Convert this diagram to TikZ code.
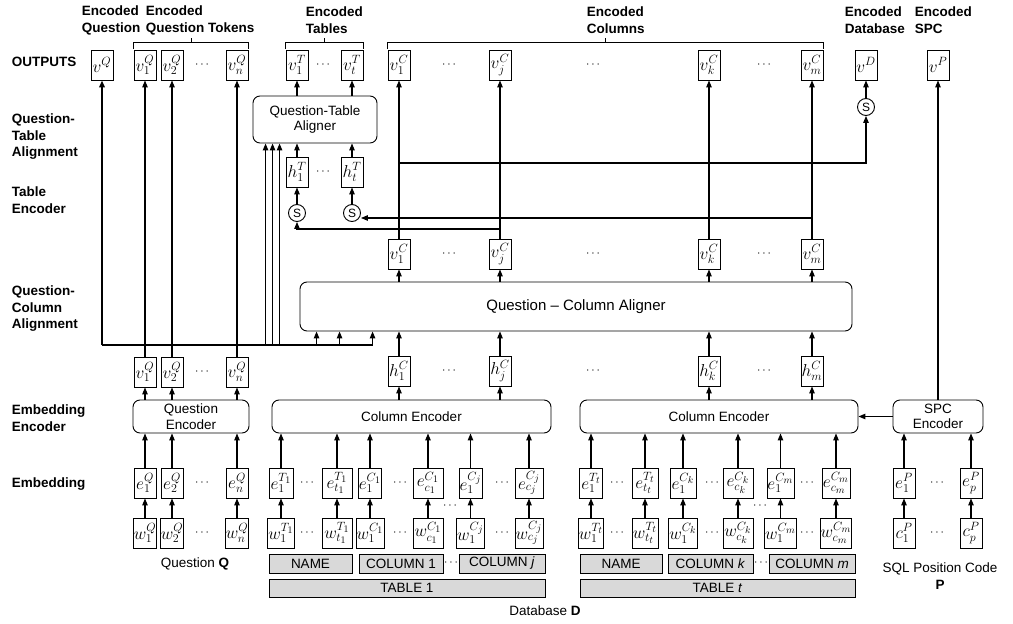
\documentclass[tikz,border=0pt]{standalone}
\usepackage{fontspec}
\setmainfont{Liberation Sans}
\usetikzlibrary{arrows.meta, calc}

\begin{document}
\begin{tikzpicture}[x=1pt, y=-1pt, >={Triangle[length=7pt, width=5.5pt]}, line width=1.1pt,
    mbox/.style={draw, line width=0.9pt, fill=white, minimum width=22pt, minimum height=30pt, inner sep=0.5pt, font=\fontsize{17.28}{18}\selectfont},
    encbox/.style={draw, line width=0.9pt, rounded corners=7pt, align=center, inner sep=0pt, font=\fontsize{13.5}{15.5}\selectfont},
    graybox/.style={draw, line width=0.9pt, fill=boxgray, inner sep=0pt, font=\fontsize{13.5}{15}\selectfont},
    sumnode/.style={draw, circle, line width=0.9pt, fill=white, minimum size=17pt, inner sep=0pt, font=\fontsize{12}{12}\selectfont},
    rowlabel/.style={anchor=west, align=left, font=\fontsize{13.5}{16.5}\selectfont\bfseries},
    headlabel/.style={anchor=west, align=left, font=\fontsize{13.5}{17}\selectfont\bfseries},
    dotsnode/.style={inner sep=0pt, font=\fontsize{12}{14}\selectfont},
    plain/.style={align=center, font=\fontsize{13.5}{17}\selectfont}]

    % --- Definitions ---
    \definecolor{boxgray}{RGB}{217, 217, 217}

    \useasboundingbox (0,0) rectangle (1013,624);

    % Rows (y of the levels)
    \def\yOut{65}
    \def\yMid{254}
    \def\yHid{371}
    \def\yEmb{483}
    \def\yWrd{533}

    % --- Row labels ---
    \node[rowlabel] (lOut) at (8,62) {OUTPUTS};
    \node[rowlabel] (lQTA) at (8,137) {Question-\\Table\\Alignment};
    \node[rowlabel] (lTE) at (8,200) {Table\\Encoder};
    \node[rowlabel] (lQCA) at (8,309) {Question-\\Column\\Alignment};
    \node[rowlabel] (lEE) at (8,418) {Embedding\\Encoder};
    \node[rowlabel] (lEmb) at (8,484) {Embedding};

    % --- Header labels ---
    \node[headlabel] (hQ) at (78,20) {Encoded\\Question};
    \node[headlabel] (hQT) at (142,20) {Encoded\\Question Tokens};
    \node[headlabel] (hT) at (302,20) {Encoded\\Tables};
    \node[headlabel] (hC) at (583,20) {Encoded\\Columns};
    \node[headlabel] (hD) at (841,20) {Encoded\\Database};
    \node[headlabel] (hP) at (911,20) {Encoded\\SPC};

    % --- Question side ---
    \node[mbox] (oq) at (102,\yOut) {$v^{Q}$};
    \foreach \i/\x in {1/145, 2/172, n/237} {
        \node[mbox] (oq\i) at (\x,\yOut) {$v^{Q}_{\i}$};
        \node[mbox] (qv\i) at (\x,372) {$v^{Q}_{\i}$};
        \node[mbox] (qe\i) at (\x,\yEmb) {$e^{Q}_{\i}$};
        \node[mbox] (qw\i) at (\x,\yWrd) {$w^{Q}_{\i}$};
    }
    \foreach \n/\y in {dq1/\yOut, dq2/372, dq3/\yEmb, dq4/\yWrd}
        \node[dotsnode] (\n) at (202,\y) {$\cdots$};
    \node[encbox, minimum width=116pt, minimum height=33pt] (qenc) at (191,416.5) {Question\\Encoder};
    \node[plain] (qlab) at (195,564) {Question \textbf{Q}};

    % --- Tables and columns ---
    \foreach \n/\x/\w/\hi/\lo in {t1a/281/24/T_1/1, t1b/337/30/T_1/t_1, c1a/370/23/C_1/1, c1b/428/30/C_1/c_1,
            cja/470.5/23/C_j/1, cjb/529/28/C_j/c_j, tta/591/23/T_t/1, ttb/645/26/T_t/t_t,
            cka/683/26/C_k/1, ckb/738/30/C_k/c_k, cma/780.5/23/C_m/1, cmb/836/28/C_m/c_m} {
        \node[mbox, minimum width=\w pt] (e\n) at (\x,\yEmb) {$e^{\hi}_{\lo}$};
        \node[mbox, minimum width=\w pt] (w\n) at (\x,\yWrd) {$w^{\hi}_{\lo}$};
    }
    \foreach \n/\x in {307/307, 400/400, 502/502, 617/617, 712/712, 807/807} {
        \node[dotsnode] (de\n) at (\x,\yEmb) {$\cdots$};
        \node[dotsnode] (dw\n) at (\x,\yWrd) {$\cdots$};
    }
    \node[dotsnode] (dc1) at (450,506) {$\cdots$};
    \node[dotsnode] (dc2) at (760,506) {$\cdots$};

    \node[encbox, minimum width=279pt, minimum height=33pt] (cenc1) at (411.5,416.5) {Column Encoder};
    \node[encbox, minimum width=278pt, minimum height=33pt] (cenc2) at (719,416.5) {Column Encoder};

    % Gray name boxes
    \node[graybox, minimum width=83pt, minimum height=19pt] (name1) at (310.5,563.5) {NAME};
    \node[graybox, minimum width=84pt, minimum height=19pt] (col1) at (401,563.5) {COLUMN 1};
    \node[graybox, minimum width=86pt, minimum height=19pt] (colj) at (502,563.5) {COLUMN \textit{j}};
    \node[graybox, minimum width=82pt, minimum height=19pt] (namet) at (621,563.5) {NAME};
    \node[graybox, minimum width=85pt, minimum height=19pt] (colk) at (710.5,563.5) {COLUMN \textit{k}};
    \node[graybox, minimum width=86pt, minimum height=19pt] (colm) at (812,563.5) {COLUMN \textit{m}};
    \node[dotsnode] (dg1) at (451,563) {$\cdots$};
    \node[dotsnode] (dg2) at (761,563) {$\cdots$};
    \node[graybox, minimum width=276pt, minimum height=18pt] (tab1) at (407,588) {TABLE 1};
    \node[graybox, minimum width=275pt, minimum height=18pt] (tabt) at (717.5,588) {TABLE \textit{t}};
    \node[plain] (dlab) at (545,611) {Database \textbf{D}};

    % Column states
    \foreach \c/\x in {1/399, j/500, k/709, m/812} {
        \node[mbox] (hc\c) at (\x,\yHid) {$h^{C}_{\c}$};
        \node[mbox] (mc\c) at (\x,\yMid) {$v^{C}_{\c}$};
        \node[mbox] (oc\c) at (\x,\yOut) {$v^{C}_{\c}$};
    }
    \foreach \n/\x in {1/449, 2/593, 3/764} {
        \node[dotsnode] (dh\n) at (\x,\yHid) {$\cdots$};
        \node[dotsnode] (dm\n) at (\x,\yMid) {$\cdots$};
        \node[dotsnode] (do\n) at (\x,\yOut) {$\cdots$};
    }
    \node[encbox, minimum width=552pt, minimum height=49pt, font=\fontsize{15}{17}\selectfont] (qca) at (576,306.5) {Question -- Column Aligner};

    % Tables
    \node[encbox, minimum width=124pt, minimum height=47pt] (qta) at (315,119.5) {Question-Table\\Aligner};
    \foreach \t/\x in {1/297, t/352} {
        \node[sumnode] (s\t) at (\x,213) {S};
        \node[mbox] (ht\t) at (\x,172) {$h^{T}_{\t}$};
        \node[mbox] (ot\t) at (\x,\yOut) {$v^{T}_{\t}$};
    }
    \node[dotsnode] (dt1) at (323,\yOut) {$\cdots$};
    \node[dotsnode] (dt2) at (323,172) {$\cdots$};

    % Database and SPC
    \node[mbox] (od) at (866,\yOut) {$v^{D}$};
    \node[sumnode] (sd) at (866,107) {S};
    \node[mbox] (op) at (938,\yOut) {$v^{P}$};
    \node[encbox, minimum width=90pt, minimum height=33pt] (spcenc) at (938,416.5) {SPC\\Encoder};
    \foreach \p/\x in {1/904, p/971} {
        \node[mbox] (pe\p) at (\x,\yEmb) {$e^{P}_{\p}$};
        \node[mbox] (pc\p) at (\x,\yWrd) {$c^{P}_{\p}$};
    }
    \node[dotsnode] (dp1) at (937,\yEmb) {$\cdots$};
    \node[dotsnode] (dp2) at (937,\yWrd) {$\cdots$};
    \node[plain] (plab) at (940,576) {SQL Position Code\\\textbf{P}};

    % --- Brackets over the outputs ---
    \foreach \a/\b in {oq1/oqn, ot1/ott, oc1/ocm} {
        \draw[line width=0.9pt] ([yshift=1pt]\a.north west) -- ([yshift=7pt]\a.north west)
            -- ([yshift=7pt]\b.north east) -- ([yshift=1pt]\b.north east);
        \draw[line width=0.9pt] ($([yshift=7pt]\a.north west)!0.5!([yshift=7pt]\b.north east)$) -- ++(0,-5);
    }

    % --- Embedding arrows ---
    \foreach \i in {1,2,n} {
        \draw[->] (qw\i.north) -- (qe\i.south);
        \draw[->] (qe\i.north) -- (qe\i.north |- qenc.south);
        \draw[->] (qv\i.south |- qenc.north) -- (qv\i.south);
        \draw[->] (qv\i.north) -- (oq\i.south);
    }
    \foreach \n in {t1a,t1b,c1a,c1b,cja,cjb} {
        \draw[->] (w\n.north) -- (e\n.south);
        \draw[->] (e\n.north) -- (e\n.north |- cenc1.south);
    }
    \foreach \n in {tta,ttb,cka,ckb,cma,cmb} {
        \draw[->] (w\n.north) -- (e\n.south);
        \draw[->] (e\n.north) -- (e\n.north |- cenc2.south);
    }
    \foreach \p in {1,p} {
        \draw[->] (pc\p.north) -- (pe\p.south);
        \draw[->] (pe\p.north) -- (pe\p.north |- spcenc.south);
    }
    \draw[->] (spcenc.west) -- (cenc2.east);
    \draw[->] (op.south |- spcenc.north) -- (op.south);

    % --- Question bus ---
    \coordinate (bus) at (0,345);
    \foreach \k/\dx in {1/13, 2/20, 3/27}
        \coordinate (qtaIn\k) at ($(qta.south west)+(\dx,0)$);
    \foreach \k/\dx in {1/17, 2/40, 3/73}
        \coordinate (qcaIn\k) at ($(qca.south west)+(\dx,0)$);
    \draw[line width=1.8pt] (qtaIn3 |- bus) -- (oq.south |- bus);
    \draw[->, line width=1.8pt] (oq.south |- bus) -- (oq.south);
    \draw (qtaIn3 |- bus) -- (qcaIn3 |- bus);
    \foreach \k in {1,2,3} {
        \draw[->] (qtaIn\k |- bus) -- (qtaIn\k);
        \draw[->] (qcaIn\k |- bus) -- (qcaIn\k);
    }

    % --- Column paths ---
    \foreach \c in {1,j,k,m} {
        \draw[->] (hc\c.south |- cenc1.north) -- (hc\c.south);
        \draw[->] (hc\c.north) -- (hc\c.north |- qca.south);
        \draw[->] (mc\c.south |- qca.north) -- (mc\c.south);
        \draw[->] (mc\c.north) -- (oc\c.south);
    }

    % --- Sums for tables and database ---
    \coordinate (yA) at (0,163);
    \coordinate (yB) at (0,218);
    \coordinate (yC) at (0,229);
    \draw[->] (mcj.north |- yC) -- (s1.south |- yC) -- (s1.south);
    \draw[->] (mcm.north |- yB) -- (yB -| st.east);
    \draw[->] (mc1.north |- yA) -- (sd.south |- yA) -- (sd.south);
    \draw[->] (sd.north) -- (od.south);
    \foreach \t in {1,t} {
        \draw[->] (s\t.north) -- (ht\t.south);
        \draw[->] (ht\t.north) -- (ht\t.north |- qta.south);
        \draw[->] (ot\t.south |- qta.north) -- (ot\t.south);
    }

\end{tikzpicture}
\end{document}
